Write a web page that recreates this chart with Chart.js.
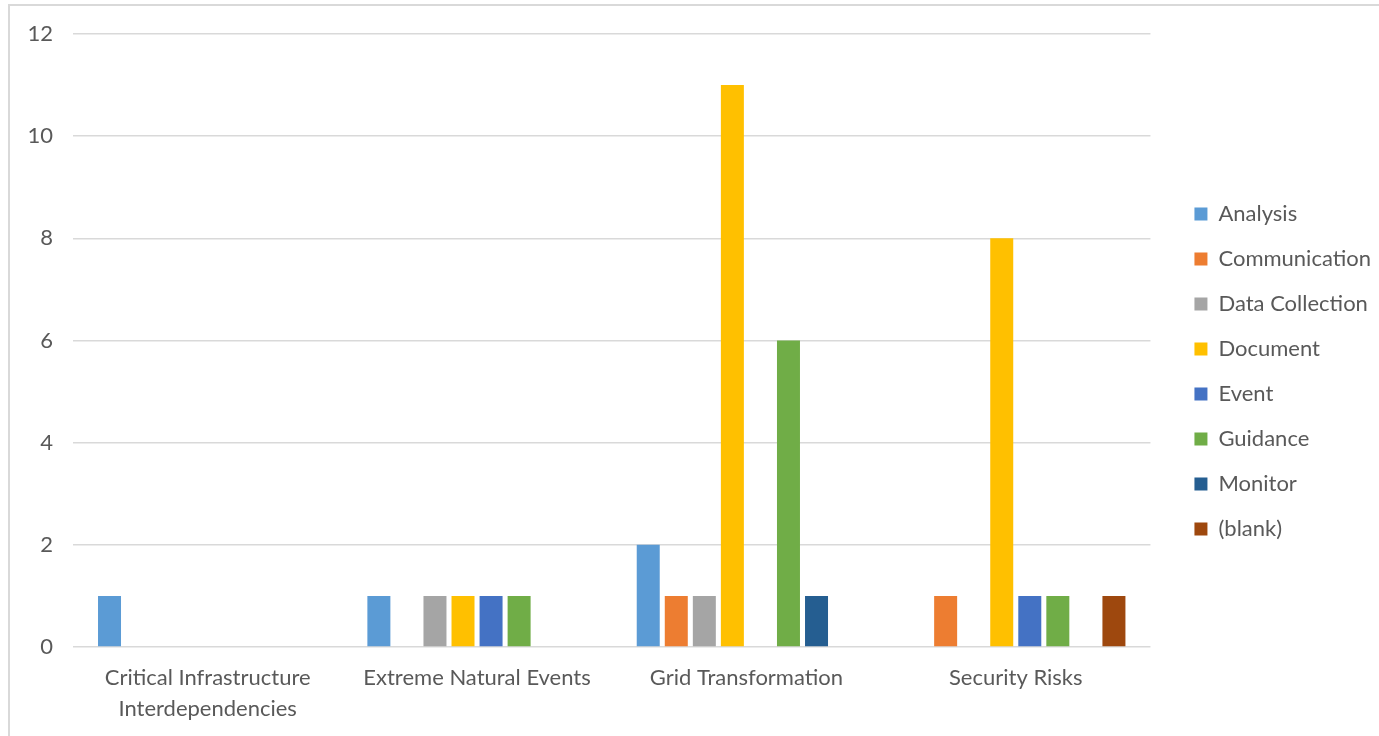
<!DOCTYPE html>
<html>
<head>
<meta charset="utf-8">
<script src="https://cdn.jsdelivr.net/npm/chart.js@4"></script>
<style>
    html, body { margin: 0; padding: 0; background: #fff; overflow: hidden; }
    #wrap { position: relative; width: 1379px; height: 736px; }
    #frame {
        position: absolute; left: 8px; top: 4px; width: 1400px; height: 760px;
        border-left: 2px solid #d9d9d9; border-top: 2px solid #d9d9d9;
    }
    canvas { position: absolute; left: 0; top: 0; }
</style>
</head>
<body>
<div id="wrap">
    <div id="frame"></div>
    <canvas id="topicChart" width="1379" height="736"></canvas>
</div>
<script>
const categories = [
    ['Critical Infrastructure', 'Interdependencies'],
    'Extreme Natural Events',
    'Grid Transformation',
    'Security Risks'
];
const seriesNames = ['Analysis', 'Communication', 'Data Collection', 'Document', 'Event', 'Guidance', 'Monitor', '(blank)'];
const seriesColors = ['#5b9bd5', '#ed7d31', '#a5a5a5', '#ffc000', '#4472c4', '#70ad47', '#255e91', '#9e480e'];

// one array per series, null where the pivot had no entry
const analysis = [1, 1, 2, null];
const communication = [null, null, 1, 1];
const dataCollection = [null, 1, 1, null];
const documentCounts = [null, 1, 11, 8];
const eventCounts = [null, 1, null, 1];
const guidance = [null, 1, 6, 1];
const monitor = [null, null, 1, null];
const blank = [null, null, null, 1];

const seriesValues = [analysis, communication, dataCollection, documentCounts, eventCounts, guidance, monitor, blank];
const yTicks = [0, 2, 4, 6, 8, 10, 12];

const textColor = '#595959';
const fontFamily = 'Lato, "Open Sans", sans-serif';

const ctx = document.getElementById('topicChart').getContext('2d');

new Chart(ctx, {
    type: 'bar',
    data: {
        labels: categories,
        datasets: seriesNames.map((name, i) => ({
            label: name,
            data: seriesValues[i],
            backgroundColor: seriesColors[i],
            borderWidth: 0,
            categoryPercentage: 0.833,
            barPercentage: 0.82
        }))
    },
    options: {
        responsive: false,
        animation: false,
        layout: {
            padding: { left: 0, top: 34, right: -2, bottom: 0 }
        },
        plugins: {
            tooltip: { enabled: false },
            legend: {
                position: 'right',
                align: 'start',
                // empty title only pushes the items down to where Excel put them
                title: {
                    display: true,
                    text: ' ',
                    font: { size: 10, lineHeight: 1 },
                    padding: { top: 136, bottom: 0 }
                },
                labels: {
                    color: textColor,
                    font: { family: fontFamily, size: 22 },
                    boxWidth: 13,
                    boxHeight: 13,
                    padding: 23
                }
            }
        },
        scales: {
            x: {
                grid: { display: false, drawTicks: false },
                border: { display: false },
                ticks: {
                    color: textColor,
                    font: { family: fontFamily, size: 22, lineHeight: 1.38 },
                    padding: 16,
                    maxRotation: 0,
                    autoSkip: false
                },
                afterFit: (scale) => { scale.height = 89; }
            },
            y: {
                min: yTicks[0],
                max: yTicks[yTicks.length - 1],
                grid: { color: '#d9d9d9', lineWidth: 1.5, drawTicks: false },
                border: { display: false },
                ticks: {
                    stepSize: 2,
                    color: textColor,
                    font: { family: fontFamily, size: 22 },
                    padding: 20
                },
                afterFit: (scale) => { scale.width = 73; }
            },
            gap: {
                position: 'right',
                display: true,
                grid: { display: false, drawTicks: false },
                border: { display: false },
                ticks: { display: false },
                afterFit: (scale) => { scale.width = 21; }
            }
        }
    }
});
</script>
</body>
</html>
